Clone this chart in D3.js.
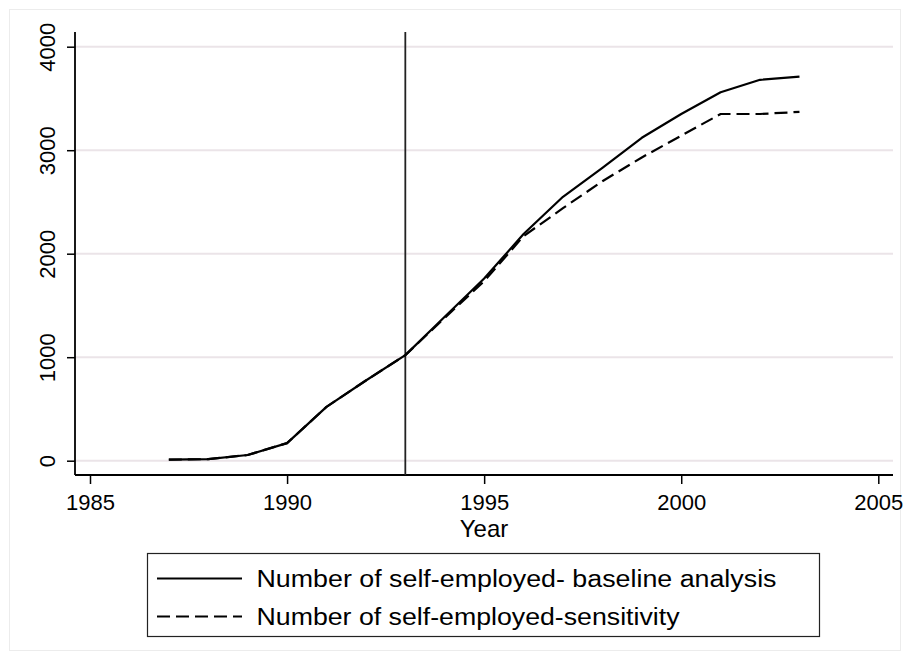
<!DOCTYPE html>
<html>
<head>
<meta charset="utf-8">
<script src="https://cdn.jsdelivr.net/npm/d3@7"></script>
<style>
  html, body { margin: 0; padding: 0; background: #fff; }
  svg { display: block; }
  text { font-family: "Liberation Sans", Arial, sans-serif; fill: #000; }
</style>
</head>
<body>
<svg id="chart" width="911" height="661"></svg>
<script>
// ---- data ----
const years = [1987, 1988, 1989, 1990, 1991, 1992, 1993, 1994, 1995, 1996, 1997, 1998, 1999, 2000, 2001, 2002, 2003];
const baseline = [10, 15, 55, 170, 520, 775, 1020, 1390, 1760, 2190, 2550, 2830, 3120, 3350, 3560, 3680, 3710];
const sensitivity = [10, 15, 55, 170, 520, 775, 1020, 1380, 1735, 2170, 2440, 2700, 2930, 3140, 3350, 3350, 3370];
const xTicks = [1985, 1990, 1995, 2000, 2005];
const yTicks = [0, 1000, 2000, 3000, 4000];
const refYear = [1993];
const seriesNames = ["Number of self-employed- baseline analysis", "Number of self-employed-sensitivity"];
const xTitle = "Year";

// ---- layout ----
const svg = d3.select("#chart");
const plotL = 75, plotR = 893, plotT = 32, plotB = 475;
const x = d3.scaleLinear().domain([1985, 2005]).range([90, 878.3]);
const y = d3.scaleLinear().domain([0, 4000]).range([460.7, 46.7]);

// outer faint border
svg.append("rect").attr("x", 9.5).attr("y", 9.5).attr("width", 891).attr("height", 641)
  .attr("fill", "none").attr("stroke", "#ececec").attr("stroke-width", 1);

// gridlines
svg.append("g").selectAll("line").data(yTicks).join("line")
  .attr("x1", plotL).attr("x2", plotR)
  .attr("y1", d => y(d)).attr("y2", d => y(d))
  .attr("stroke", "#ebe4e8").attr("stroke-width", 2);

// y axis
const yAxis = svg.append("g").attr("transform", `translate(${plotL},0)`)
  .call(d3.axisLeft(y).tickValues(yTicks).tickSize(8).tickPadding(20).tickFormat(d3.format("d")));
yAxis.select(".domain").remove();
yAxis.selectAll(".tick line").attr("stroke", "#000").attr("stroke-width", 1.5);
yAxis.selectAll(".tick text")
  .attr("font-size", 22).attr("font-family", "Liberation Sans, Arial, sans-serif")
  .attr("text-anchor", "middle").attr("dy", 0).attr("x", 0)
  .attr("transform", "translate(-20,0) rotate(-90)");
svg.append("line").attr("x1", plotL).attr("x2", plotL).attr("y1", plotT).attr("y2", plotB)
  .attr("stroke", "#000").attr("stroke-width", 1.8);

// x axis
const xAxis = svg.append("g").attr("transform", `translate(0,${plotB})`)
  .call(d3.axisBottom(x).tickValues(xTicks).tickSize(9).tickPadding(4).tickFormat(d3.format("d")));
xAxis.select(".domain").remove();
xAxis.selectAll(".tick line").attr("stroke", "#000").attr("stroke-width", 1.5);
xAxis.selectAll(".tick text")
  .attr("font-size", 22).attr("font-family", "Liberation Sans, Arial, sans-serif")
  .attr("dy", "0.71em").attr("y", 19);
svg.append("line").attr("x1", plotL).attr("x2", plotR).attr("y1", plotB).attr("y2", plotB)
  .attr("stroke", "#000").attr("stroke-width", 1.8);

// x title
svg.append("text").attr("x", (plotL + plotR) / 2).attr("y", 537)
  .attr("text-anchor", "middle").attr("font-size", 24).text(xTitle);

// reference line
svg.append("g").selectAll("line").data(refYear).join("line")
  .attr("x1", d => x(d)).attr("x2", d => x(d)).attr("y1", plotT).attr("y2", plotB)
  .attr("stroke", "#222").attr("stroke-width", 1.8);

// series
const line = d3.line().x(d => x(d[0])).y(d => y(d[1]));
const series = [
  { vals: baseline, dash: null },
  { vals: sensitivity, dash: "13,6" }
];
svg.append("g").selectAll("path").data(series).join("path")
  .attr("d", s => line(years.map((yr, i) => [yr, s.vals[i]])))
  .attr("fill", "none").attr("stroke", "#000").attr("stroke-width", 2.2)
  .attr("stroke-linejoin", "round")
  .attr("stroke-dasharray", s => s.dash);

// legend
const lg = svg.append("g");
lg.append("rect").attr("x", 147.5).attr("y", 553.5).attr("width", 672).attr("height", 83)
  .attr("fill", "#fff").attr("stroke", "#222").attr("stroke-width", 1.2);
const rowsY = [578.5, 616.5];
const textLens = [520, 423];
seriesNames.forEach((name, i) => {
  lg.append("line").attr("x1", 157).attr("x2", 242).attr("y1", rowsY[i]).attr("y2", rowsY[i])
    .attr("stroke", "#000").attr("stroke-width", 2.2)
    .attr("stroke-dasharray", series[i].dash);
  lg.append("text").attr("x", 256.5).attr("y", rowsY[i] + 8.5)
    .attr("font-size", 23)
    .attr("textLength", textLens[i]).attr("lengthAdjust", "spacingAndGlyphs")
    .text(name);
});
</script>
</body>
</html>
